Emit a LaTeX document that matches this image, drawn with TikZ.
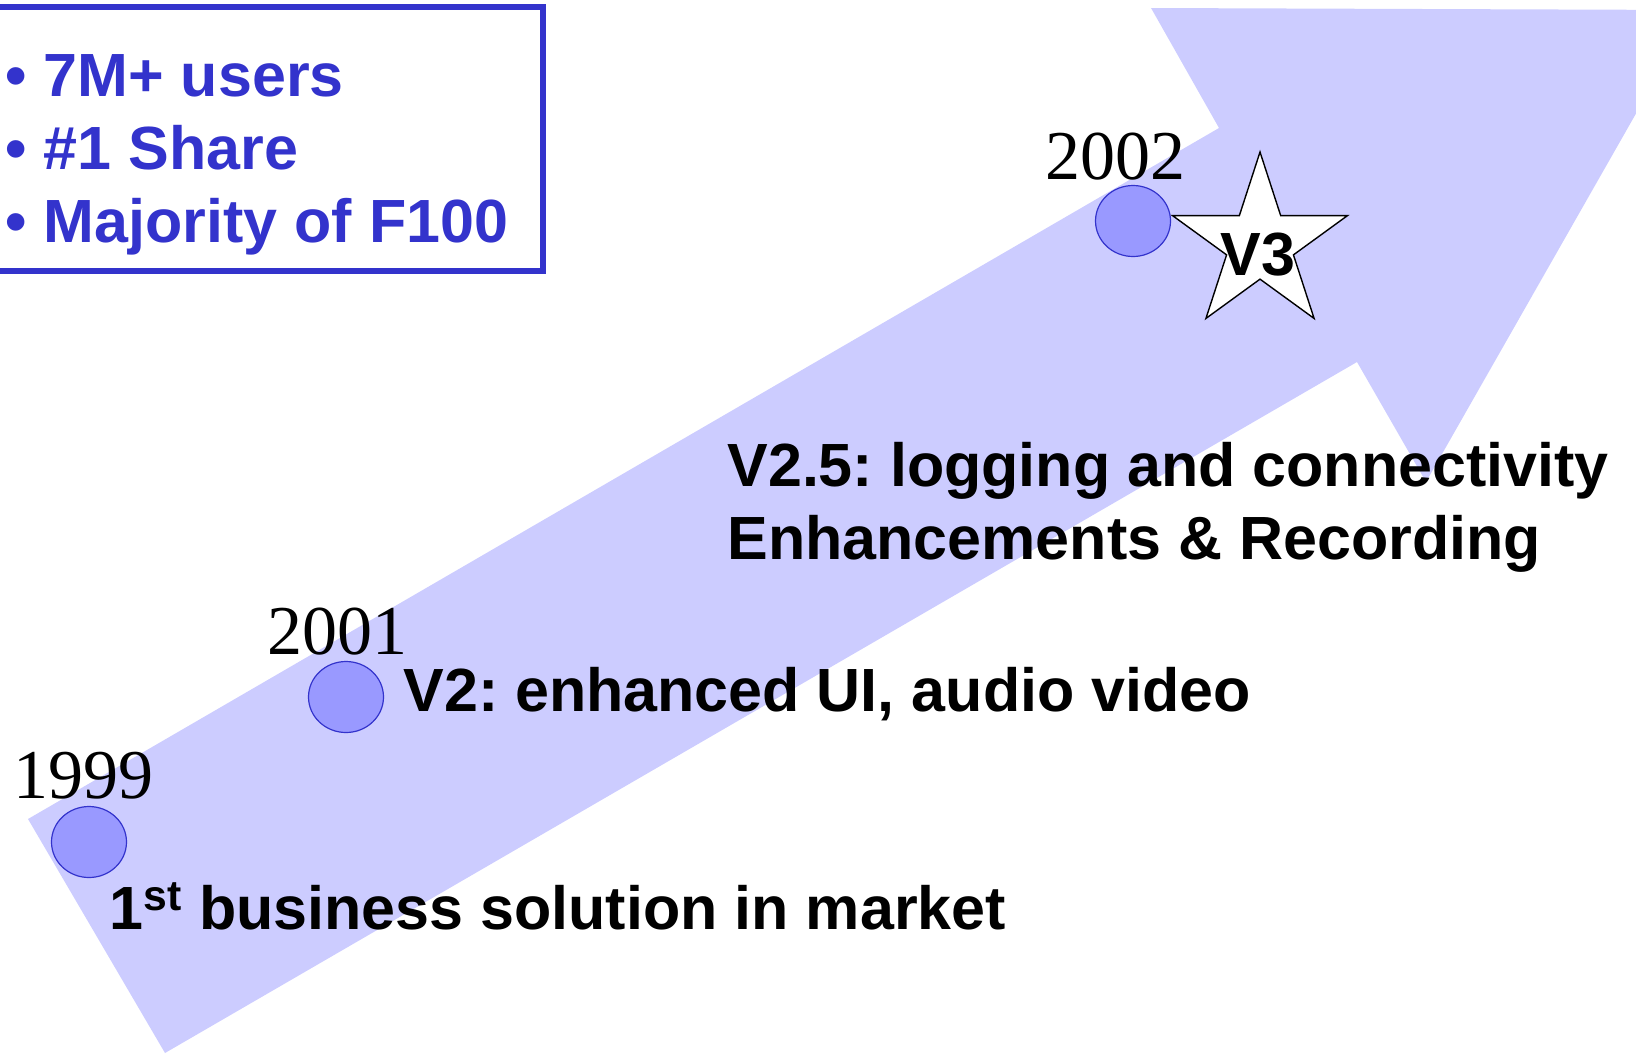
\documentclass[tikz,border=0pt]{standalone}
\usepackage{fontspec}
\setmainfont{Liberation Serif}
\setsansfont{Liberation Sans}
\usetikzlibrary{shapes.geometric}
\definecolor{arrowblue}{HTML}{CCCCFF}
\definecolor{dotblue}{HTML}{9999FF}
\definecolor{inkblue}{HTML}{3333CC}
\tikzset{
  {big arrow/.style} ={fill=arrowblue},
  {dot/.style} ={ellipse,draw=inkblue,fill=dotblue,line width=0.6pt,
                 inner sep=0,minimum width=37.5pt,minimum height=35.5pt},
  {year/.style} ={font=\fontsize{35}{40}\selectfont,inner sep=0,anchor=base},
  {note/.style} ={font=\sffamily\bfseries\fontsize{30.5}{36.5}\selectfont,
                  inner sep=0,anchor=base west,align=left},
  {stats/.style} ={note,text=inkblue},
  {stats box/.style} ={draw=inkblue,line width=2.6pt},
  {milestone/.style} ={star,star points=5,star point ratio=2.618,
                  draw=black,fill=white,line width=0.7pt,
                  inner sep=0,minimum size=92pt},
}

\begin{document}
\frenchspacing
\begin{tikzpicture}[x=0.5pt,y=-0.5pt]
\useasboundingbox (0,0) rectangle (1636,1055);

% the big arrow
\fill[big arrow] (28,819) -- (1219,128) -- (1151,8) -- (1695,10)
  -- (1426,482) -- (1357,362) -- (165,1053) -- cycle;

% box with the numbers (base = last line)
\draw[stats box] (-20,7) rectangle (543,271);
\node[stats] (stats) at (5,242) {\textbullet{} 7M+ users\\
  \textbullet{} \#1 Share\\
  \textbullet{} Majority of F100};

% dots and years
\node[dot] (d99) at (89,842) {};
\node[dot] (d01) at (346,697) {};
\node[dot] (d02) at (1133,221) {};
\node[year] (y99) at (83,798) {1999};
\node[year] (y01) at (337,654) {2001};
\node[year] (y02) at (1115,179) {2002};

\node[milestone] (v3) at (1260,244) {};
\node[note,anchor=center] (v3 text) at (1258,255) {V3};

% what came with each version
\node[note] (first) at (109,929) {1\textsuperscript{st} business solution in market};
\node[note] (v2) at (403,711) {V2: enhanced UI, audio video};
\node[note] (v25) at (727,559) {V2.5: logging and connectivity\\
  Enhancements \& Recording};
\end{tikzpicture}
\end{document}
